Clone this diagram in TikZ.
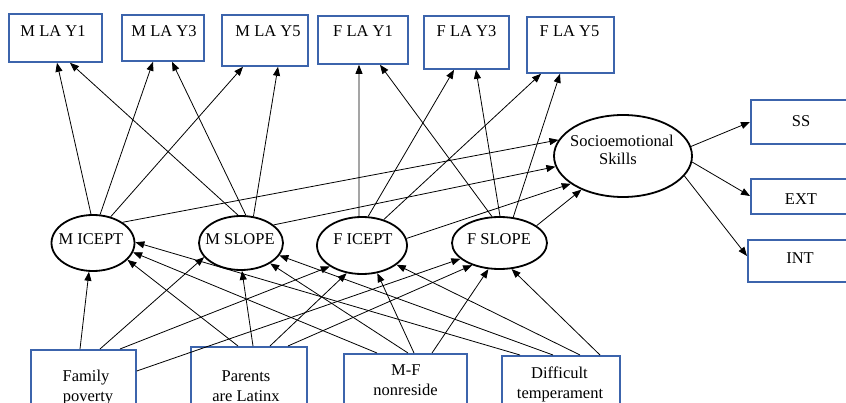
\documentclass[tikz,border=0pt]{standalone}
\usepackage{fontspec}
\setmainfont{Liberation Serif}
\usetikzlibrary{arrows.meta,shapes.geometric}
\definecolor{boxblue}{RGB}{60,100,172}
\begin{document}
\begin{tikzpicture}[x=1pt,y=-1pt,
  box/.style={draw=boxblue,line width=1.8pt,inner sep=0pt,anchor=north west},
  lat/.style={draw,ellipse,line width=1.8pt,inner sep=0pt},
  lbl/.style={font=\fontsize{16.5}{19}\selectfont,inner sep=0pt,anchor=base},
  arr/.style={-{Triangle[length=9pt,width=7pt]},line width=0.8pt}]
\useasboundingbox (0,0) rectangle (846,403);
\clip (0,0) rectangle (846,403);
% indicator boxes
\node[box,minimum width=93pt,minimum height=48pt] (mla1) at (8,13) {};
\node[box,minimum width=82pt,minimum height=46pt] (mla3) at (121,14) {};
\node[box,minimum width=86pt,minimum height=51pt] (mla5) at (221,14) {};
\node[box,minimum width=90pt,minimum height=48pt] (fla1) at (317,15) {};
\node[box,minimum width=85pt,minimum height=53pt] (fla3) at (423,15) {};
\node[box,minimum width=87pt,minimum height=56pt] (fla5) at (526,16) {};
\node[lbl] (mla1t) at (53,36.5) {M LA Y1};
\node[lbl] (mla3t) at (164,36.5) {M LA Y3};
\node[lbl] (mla5t) at (268,36.5) {M LA Y5};
\node[lbl] (fla1t) at (363,36.5) {F LA Y1};
\node[lbl] (fla3t) at (466.5,36.5) {F LA Y3};
\node[lbl] (fla5t) at (569.5,36.5) {F LA Y5};
% outcome boxes
\node[box,minimum width=102pt,minimum height=44pt] (ss) at (750,99) {};
\node[box,minimum width=102pt,minimum height=35pt] (ext) at (750,178) {};
\node[box,minimum width=106pt,minimum height=42pt] (int) at (747,239) {};
\node[lbl] (sst) at (801,126.5) {SS};
\node[lbl] (extt) at (801,205) {EXT};
\node[lbl] (intt) at (800,264) {INT};
% covariate boxes
\node[box,minimum width=105pt,minimum height=80pt] (fam) at (30,349) {};
\node[box,minimum width=116pt,minimum height=80pt] (par) at (190,346) {};
\node[box,minimum width=123pt,minimum height=80pt] (mf) at (343,353) {};
\node[box,minimum width=118pt,minimum height=80pt] (dif) at (501,355) {};
\node[lbl] (fam1) at (86,381.7) {Family};
\node[lbl] (fam2) at (88,401) {poverty};
\node[lbl] (par1) at (246,381.7) {Parents};
\node[lbl] (par2) at (246,401) {are Latinx};
\node[lbl] (mf1) at (405.8,375.5) {M-F};
\node[lbl] (mf2) at (405.5,395) {nonreside};
\node[lbl] (dif1) at (559.5,378) {Difficult};
\node[lbl] (dif2) at (560,398) {temperament};
% latent variables
\node[lat,minimum width=83pt,minimum height=56pt] (micept) at (93,243) {};
\node[lat,minimum width=84pt,minimum height=54pt] (mslope) at (241,243) {};
\node[lat,minimum width=90pt,minimum height=57pt] (ficept) at (362,245.5) {};
\node[lat,minimum width=95pt,minimum height=52pt] (fslope) at (499.5,243) {};
\node[lat,minimum width=138pt,minimum height=82pt] (socio) at (623,156) {};
\node[lbl] (micet) at (91,245) {M ICEPT};
\node[lbl] (mslot) at (240,245) {M SLOPE};
\node[lbl] (ficet) at (363,245) {F ICEPT};
\node[lbl] (fslot) at (499,245) {F SLOPE};
\node[lbl] (socio1) at (622,146.5) {Socioemotional};
\node[lbl] (socio2) at (618,165) {Skills};
% loadings
\draw[arr] (micept.94) -- ([xshift=49pt]mla1.south west);
\draw[arr] (mslope.96) -- ([xshift=62pt]mla1.south west);
\draw[arr] (micept.76) -- ([xshift=32pt]mla3.south west);
\draw[arr] (mslope.80) -- ([xshift=51pt]mla3.south west);
\draw[arr] (micept.56) -- ([xshift=22pt]mla5.south west);
\draw[arr] (mslope.65) -- ([xshift=57pt]mla5.south west);
\draw[arr] (ficept.96) -- ([xshift=42pt]fla1.south west);
\draw[arr] (fslope.106) -- ([xshift=63pt]fla1.south west);
\draw[arr] (ficept.78.5) -- ([xshift=31pt]fla3.south west);
\draw[arr] (fslope.89) -- ([xshift=53pt]fla3.south west);
\draw[arr] (ficept.50.5) -- ([xshift=15pt]fla5.south west);
\draw[arr] (fslope.62.5) -- ([xshift=34pt]fla5.south west);
% to socioemotional
\draw[arr] (micept.35) -- (socio.166);
\draw[arr] (mslope.29) -- (socio.189.5);
\draw[arr] (ficept.9.5) -- (socio.208);
\draw[arr] (fslope.25.6) -- (socio.219);
\draw[arr] (socio.8) -- ([yshift=-23pt]ss.north west);
\draw[arr] (socio.355) -- ([yshift=-18pt]ext.north west);
\draw[arr] (socio.342) -- ([yshift=-17pt]int.north west);
% covariates
\draw[arr] ([xshift=50pt]fam.north west) -- (micept.262);
\draw[arr] ([xshift=70pt]fam.north west) -- (mslope.201);
\draw[arr] ([xshift=90pt]fam.north west) -- (ficept.213);
\draw[arr] ([yshift=-22pt]fam.north east) -- (fslope.202);
\draw[arr] ([xshift=48pt]par.north west) -- (micept.334);
\draw[arr] ([xshift=63pt]par.north west) -- (mslope.272);
\draw[arr] ([xshift=80pt]par.north west) -- (ficept.241);
\draw[arr] ([xshift=98pt]par.north west) -- (fslope.219);
\draw[arr] ([xshift=34pt]mf.north west) -- (micept.347);
\draw[arr] ([xshift=65pt]mf.north west) -- (mslope.325);
\draw[arr] ([xshift=71pt]mf.north west) -- (ficept.299);
\draw[arr] ([xshift=89pt]mf.north west) -- (fslope.247);
\draw[arr] ([xshift=19pt]dif.north west) -- (micept.1);
\draw[arr] ([xshift=52pt]dif.north west) -- (mslope.342);
\draw[arr] ([xshift=79pt]dif.north west) -- (ficept.331);
\draw[arr] ([xshift=99pt]dif.north west) -- (fslope.295);
\end{tikzpicture}
\end{document}
